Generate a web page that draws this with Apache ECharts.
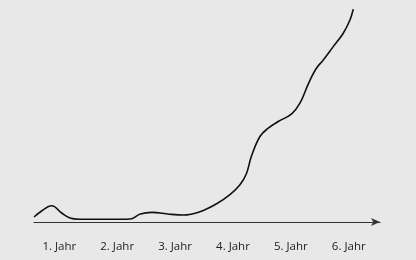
<!DOCTYPE html>
<html><head><meta charset="utf-8">
<script src="https://cdn.jsdelivr.net/npm/echarts@6/dist/echarts.min.js"></script>
<style>html,body{margin:0;padding:0;background:#e8e8e8}#c{width:416px;height:260px}</style>
</head><body><div id="c"></div>
<script>
const yearLabels = ["1. Jahr","2. Jahr","3. Jahr","4. Jahr","5. Jahr","6. Jahr"];
const yearPositions = [1,2,3,4,5,6];
const curveX = [0.563,0.701,0.869,1.041,1.185,1.35,1.9,2.221,2.40,2.6,2.9,3.142,3.430,3.718,3.948,4.121,4.23,4.32,4.466,4.610,4.782,5.014,5.157,5.30,5.43,5.560,5.732,5.905,6.021,6.078];
const curveY = [5,11.3,16.3,9,4,2.8,2.7,3,8,9.6,7.8,7,10.3,18.3,27.3,37.3,48,66,85.6,94,100.6,108.3,119,138,153,162.3,175.6,189,202.3,213];

const chart = echarts.init(document.getElementById('c'), null, {renderer:'canvas'});
chart.setOption({
  backgroundColor:'#e8e8e8',
  animation:false,
  grid:{left:34,right:36,top:0,bottom:38},
  xAxis:{type:'value',min:0.563,max:6.54,
    axisLine:{show:true,symbol:['none','arrow'],symbolSize:[6,9],lineStyle:{color:'#333',width:1}},
    axisTick:{show:false},
    splitLine:{show:false},
    axisLabel:{customValues:yearPositions,
      formatter:v=>yearLabels[yearPositions.indexOf(Math.round(v))]||'',
      color:'#222',fontFamily:'Open Sans',fontSize:11.5,margin:19}
  },
  yAxis:{type:'value',min:0,max:222.3,show:false},
  series:[{type:'line',data:curveX.map((x,i)=>[x,curveY[i]]),smooth:0.4,showSymbol:false,
    lineStyle:{color:'#111',width:1.6}}]
});
</script></body></html>
